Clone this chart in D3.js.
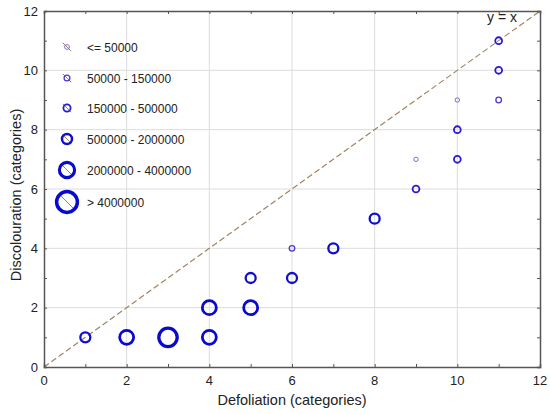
<!DOCTYPE html>
<html><head><meta charset="utf-8">
<script src="https://cdn.jsdelivr.net/npm/d3@7"></script>
<style>body{margin:0;background:#fff;} svg{display:block;font-family:Arial,"Liberation Sans",sans-serif;}</style>
</head><body><svg id="c" width="550" height="414"></svg>
<script>
const defoliation = [1,2,3,4,4,5,5,6,6,7,8,9,9,10,10,10,11,11,11];
const discolouration = [1,1,1,1,2,2,3,3,4,4,5,6,7,7,8,9,9,10,11];
const sizeClass = [3,4,5,4,4,4,3,3,1,3,3,2,0,2,2,0,1,2,2];
const classLabels = ["<= 50000","50000 - 150000","150000 - 500000","500000 - 2000000","2000000 - 4000000","> 4000000"];
const classRadius = [2.2,2.8,3.4,5,7,9.2];
const classStroke = [1,1.3,1.8,2.3,2.8,3.3];
const classColor = ["#7a6ae0","#4a3ad8","#2a1ad0","#1010cc","#0a0acc","#0a0acc"];
const xTicks = [0,2,4,6,8,10,12];
const yTicks = [0,2,4,6,8,10,12];

const svg = d3.select("#c");
const L=44,R=540,T=11,B=367;
const x = d3.scaleLinear().domain([0,12]).range([L,R]);
const y = d3.scaleLinear().domain([0,12]).range([B,T]);
const minor = d3.range(0,13);

// grid
svg.append("g").selectAll("line.gx").data(xTicks.slice(1,-1)).join("line")
  .attr("x1",d=>x(d)).attr("x2",d=>x(d)).attr("y1",T).attr("y2",B).attr("stroke","#dcdcdc").attr("stroke-width",1);
svg.append("g").selectAll("line.gy").data(yTicks.slice(1,-1)).join("line")
  .attr("y1",d=>y(d)).attr("y2",d=>y(d)).attr("x1",L).attr("x2",R).attr("stroke","#dcdcdc").attr("stroke-width",1);

// y=x line
svg.append("line").attr("x1",x(0)).attr("y1",y(0)).attr("x2",x(12)).attr("y2",y(12))
  .attr("stroke","#a08462").attr("stroke-width",1.2).attr("stroke-dasharray","6,3");
svg.append("text").attr("x",487).attr("y",22).attr("font-size",14).attr("fill","#222").text("y = x");

// axes with inward ticks on all sides
const axCol="#555";
const gB = svg.append("g").attr("transform",`translate(0,${B})`).call(d3.axisBottom(x).tickValues(minor).tickSize(-3).tickFormat(""));
const gT = svg.append("g").attr("transform",`translate(0,${T})`).call(d3.axisTop(x).tickValues(minor).tickSize(-3).tickFormat(""));
const gL = svg.append("g").attr("transform",`translate(${L},0)`).call(d3.axisLeft(y).tickValues(minor).tickSize(-3).tickFormat(""));
const gR = svg.append("g").attr("transform",`translate(${R},0)`).call(d3.axisRight(y).tickValues(minor).tickSize(-3).tickFormat(""));
[gB,gT,gL,gR].forEach(g=>{g.select(".domain").attr("stroke",axCol).attr("stroke-width",1.5);g.selectAll(".tick line").attr("stroke",axCol);});

svg.append("g").selectAll("text").data(xTicks).join("text")
  .attr("x",d=>x(d)).attr("y",B+18).attr("text-anchor","middle").attr("font-size",13).attr("fill","#222").text(d=>d);
svg.append("g").selectAll("text").data(yTicks).join("text")
  .attr("x",L-6).attr("y",d=>y(d)+4.5).attr("text-anchor","end").attr("font-size",13).attr("fill","#222").text(d=>d);

svg.append("text").attr("x",292).attr("y",405).attr("text-anchor","middle").attr("font-size",14.5).attr("fill","#222").text("Defoliation (categories)");
svg.append("text").attr("transform",`translate(21,195) rotate(-90)`).attr("text-anchor","middle").attr("font-size",14.5).attr("fill","#222").text("Discolouration (categories)");

// points
const pts = defoliation.map((d,i)=>({x:d,y:discolouration[i],c:sizeClass[i]}));
svg.append("g").selectAll("circle").data(pts).join("circle")
  .attr("cx",d=>x(d.x)).attr("cy",d=>y(d.y)).attr("r",d=>classRadius[d.c])
  .attr("fill","none").attr("stroke",d=>classColor[d.c]).attr("stroke-width",d=>classStroke[d.c]);

// legend
const lg = svg.append("g");
const legY = [47,78,108,139,170,202];
const legR = [2.4,2.9,3.6,5,7.6,10.4];
const legS = [1,1.3,1.8,2.5,3.1,3.5];
classLabels.forEach((lab,i)=>{
  const cy=legY[i], cx=67, r=legR[i];
  const dl = Math.max(r+1,6);
  lg.append("line").attr("x1",cx-dl*0.7).attr("y1",cy-dl*0.7).attr("x2",cx+dl*0.7).attr("y2",cy+dl*0.7)
    .attr("stroke","#a08462").attr("stroke-width",1);
  lg.append("circle").attr("cx",cx).attr("cy",cy).attr("r",r).attr("fill","none")
    .attr("stroke",classColor[i]).attr("stroke-width",legS[i]);
  lg.append("text").attr("x",87).attr("y",cy+4.5).attr("font-size",12).attr("fill","#222").text(lab);
});
</script></body></html>
